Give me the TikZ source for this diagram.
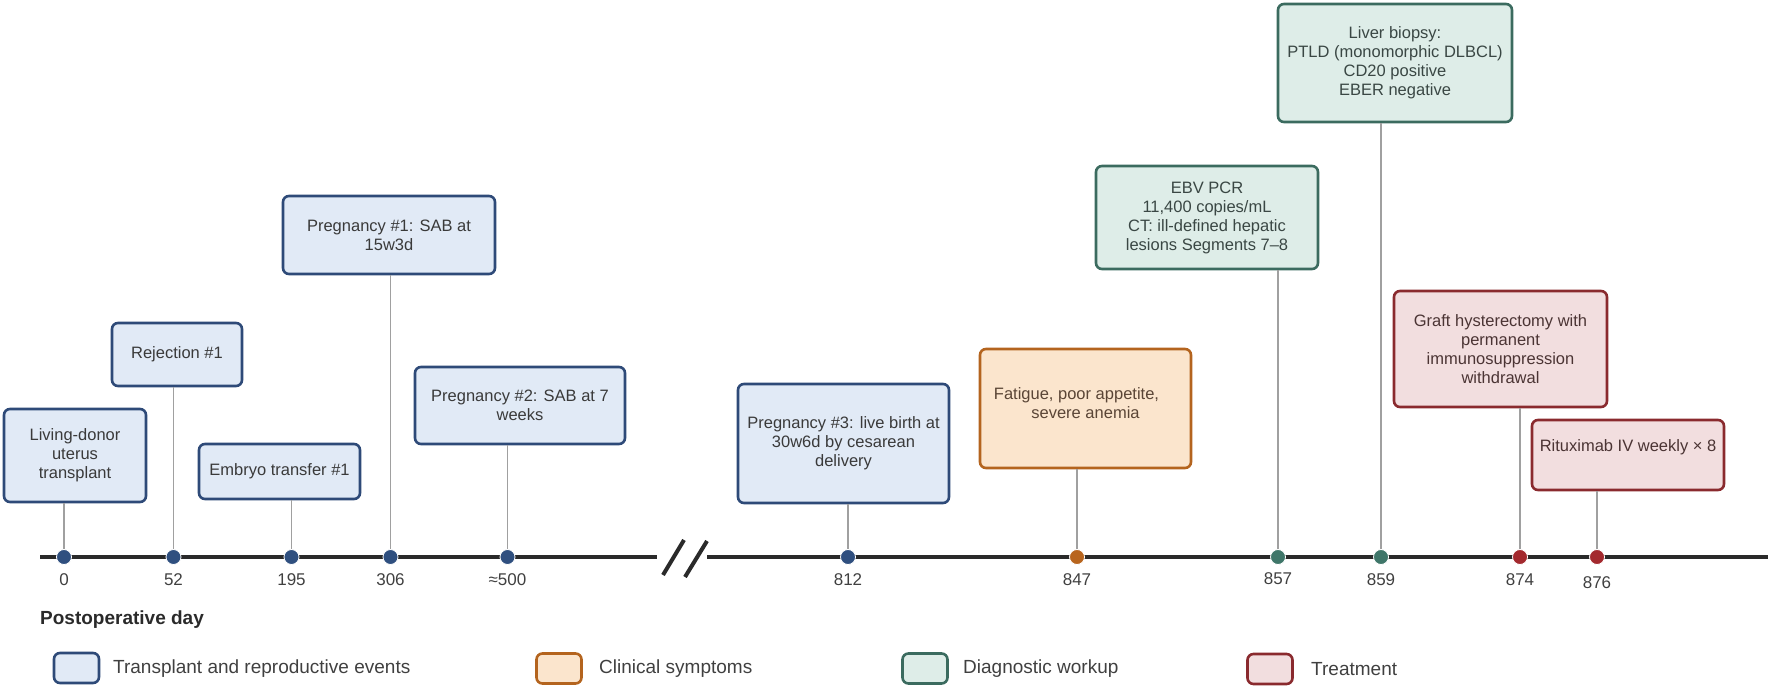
\documentclass[tikz,border=0pt]{standalone}
\usepackage{fontspec}
\setmainfont{Liberation Sans}
\definecolor{blueB}{HTML}{2E4A78}
\definecolor{blueF}{HTML}{E1EAF6}
\definecolor{blueD}{HTML}{2F4F7F}
\definecolor{orangeB}{HTML}{B4641E}
\definecolor{orangeF}{HTML}{FBE5CD}
\definecolor{orangeD}{HTML}{B8651E}
\definecolor{tealB}{HTML}{3B6B5F}
\definecolor{tealF}{HTML}{DEEDE8}
\definecolor{tealD}{HTML}{3F7669}
\definecolor{redB}{HTML}{8A2A2E}
\definecolor{redF}{HTML}{F2DEDF}
\definecolor{redD}{HTML}{A3292E}
\definecolor{txtB}{HTML}{3A3A3A}
\definecolor{txtO}{HTML}{5A4536}
\definecolor{txtT}{HTML}{3A4744}
\definecolor{txtR}{HTML}{4B3434}
\definecolor{axisgray}{HTML}{2A2A2A}
\definecolor{conngray}{HTML}{A0A0A0}
\definecolor{labgray}{HTML}{404040}
\begin{document}
\begin{tikzpicture}[x=1pt,y=-1pt,
  evbox/.style={draw, rounded corners=6pt, line width=2.6pt, align=center, inner sep=0pt,
    font=\fontsize{16.5}{19}\selectfont},
  bluebox/.style={evbox, draw=blueB, fill=blueF, text=txtB},
  orangebox/.style={evbox, draw=orangeB, fill=orangeF, text=txtO},
  tealbox/.style={evbox, draw=tealB, fill=tealF, text=txtT},
  redbox/.style={evbox, draw=redB, fill=redF, text=txtR},
  evdot/.style={circle, inner sep=0pt, minimum size=15pt, draw=white, line width=0.8pt},
  bluedot/.style={evdot, fill=blueD},
  orangedot/.style={evdot, fill=orangeD},
  tealdot/.style={evdot, fill=tealD},
  reddot/.style={evdot, fill=redD},
  ticklab/.style={font=\fontsize{17}{20}\selectfont, text=labgray, inner sep=0pt},
  conn/.style={draw=conngray, line width=1.4pt},
  axisline/.style={draw=axisgray, line width=4.5pt},
  legbox/.style={draw, rounded corners=6pt, line width=2.6pt, minimum width=45pt, minimum height=30pt, inner sep=0pt},
  legtext/.style={anchor=west, font=\fontsize{19}{22}\selectfont, text=labgray, inner sep=0pt}
]
\useasboundingbox (0,0) rectangle (1772,687);

% axis
\coordinate (ax0) at (40,557);
\coordinate (axb1) at (657,557);
\coordinate (axb2) at (707,557);
\coordinate (ax1) at (1768,557);
\coordinate (s1a) at (663,575);
\coordinate (s1b) at (684,540);
\coordinate (s2a) at (685,577);
\coordinate (s2b) at (707,541);
\draw[axisline] (ax0) -- (axb1);
\draw[axisline] (axb2) -- (ax1);
\draw[axisline, line width=4pt] (s1a) -- (s1b);
\draw[axisline, line width=4pt] (s2a) -- (s2b);

% boxes
\node[bluebox, minimum width=142pt, minimum height=93pt] (liv) at (75,455.5) {Living-donor\\uterus\\transplant};
\node[bluebox, minimum width=130pt, minimum height=63pt] (rej) at (177,354.5) {Rejection \#1};
\node[bluebox, minimum width=161pt, minimum height=55pt] (emb) at (279.5,471.5) {Embryo transfer \#1};
\node[bluebox, minimum width=212pt, minimum height=78pt] (pa) at (389,235) {Pregnancy \#1: SAB at\\15w3d};
\node[bluebox, minimum width=210pt, minimum height=77pt] (pb) at (520,405.5) {Pregnancy \#2: SAB at 7\\weeks};
\node[bluebox, minimum width=211pt, minimum height=119pt] (pc) at (843.5,443.5) {Pregnancy \#3: live birth at\\30w6d by cesarean\\delivery};
\node[orangebox, minimum width=211pt, minimum height=119pt] (fat) at (1085.5,408.5) {Fatigue, poor appetite,\hspace*{18pt}\\severe anemia\hspace*{18pt}\\[-8pt]\mbox{}};
\node[tealbox, minimum width=222pt, minimum height=103pt] (ebv) at (1207,217.5) {EBV PCR\\11,400 copies/mL\\CT: ill-defined hepatic\\lesions Segments 7–8};
\node[tealbox, minimum width=234pt, minimum height=118pt] (liver) at (1395,63) {Liver biopsy:\\PTLD (monomorphic DLBCL)\\CD20 positive\\EBER negative};
\node[redbox, minimum width=213pt, minimum height=116pt] (graft) at (1500.5,349) {Graft hysterectomy with\\permanent\\immunosuppression\\withdrawal};
\node[redbox, minimum width=192pt, minimum height=70pt] (rit) at (1628,455) {Rituximab IV weekly × 8\\\mbox{}};

% dots
\node[bluedot] (d0) at (64,557) {};
\node[bluedot] (d52) at (173.5,557) {};
\node[bluedot] (d195) at (291.5,557) {};
\node[bluedot] (d306) at (390.5,557) {};
\node[bluedot] (d500) at (507.5,557) {};
\node[bluedot] (d812) at (848,557) {};
\node[orangedot] (d847) at (1077,557) {};
\node[tealdot] (d857) at (1278,557) {};
\node[tealdot] (d859) at (1381,557) {};
\node[reddot] (d874) at (1520,557) {};
\node[reddot] (d876) at (1597,557) {};

% connectors
\draw[conn] (d0.north |- liv.south) -- (d0.north);
\draw[conn] (d52.north |- rej.south) -- (d52.north);
\draw[conn] (d195.north |- emb.south) -- (d195.north);
\draw[conn] (d306.north |- pa.south) -- (d306.north);
\draw[conn] (d500.north |- pb.south) -- (d500.north);
\draw[conn] (d812.north |- pc.south) -- (d812.north);
\draw[conn] (d847.north |- fat.south) -- (d847.north);
\draw[conn] (d857.north |- ebv.south) -- (d857.north);
\draw[conn] (d859.north |- liver.south) -- (d859.north);
\draw[conn] (d874.north |- graft.south) -- (d874.north);
\draw[conn] (d876.north |- rit.south) -- (d876.north);

% tick labels
\node[ticklab] (t0) at (64,580) {0};
\node[ticklab] (t52) at (173.5,580) {52};
\node[ticklab] (t195) at (291.5,580) {195};
\node[ticklab] (t306) at (390.5,580) {306};
\node[ticklab] (t500) at (507.5,580) {≈500};
\node[ticklab] (t812) at (848,580) {812};
\node[ticklab] (t847) at (1077,580) {847};
\node[ticklab] (t857) at (1278,579) {857};
\node[ticklab] (t859) at (1381,580) {859};
\node[ticklab] (t874) at (1520,580) {874};
\node[ticklab] (t876) at (1597,583) {876};

% axis title
\node[anchor=west, inner sep=0pt, font=\bfseries\fontsize{19}{22}\selectfont, text=axisgray] (axtitle) at (40,620) {Postoperative day};

% legend
\node[legbox, draw=blueB, fill=blueF] (lgb) at (76.5,668) {};
\node[legtext] (lgbt) at (113,669) {Transplant and reproductive events};
\node[legbox, draw=orangeB, fill=orangeF] (lgo) at (559,668.5) {};
\node[legtext] (lgot) at (599,669) {Clinical symptoms};
\node[legbox, draw=tealB, fill=tealF] (lgt) at (925,668.5) {};
\node[legtext] (lgtt) at (963,669) {Diagnostic workup};
\node[legbox, draw=redB, fill=redF] (lgr) at (1270,669) {};
\node[legtext] (lgrt) at (1311,669) {Treatment};
\end{tikzpicture}
\end{document}
